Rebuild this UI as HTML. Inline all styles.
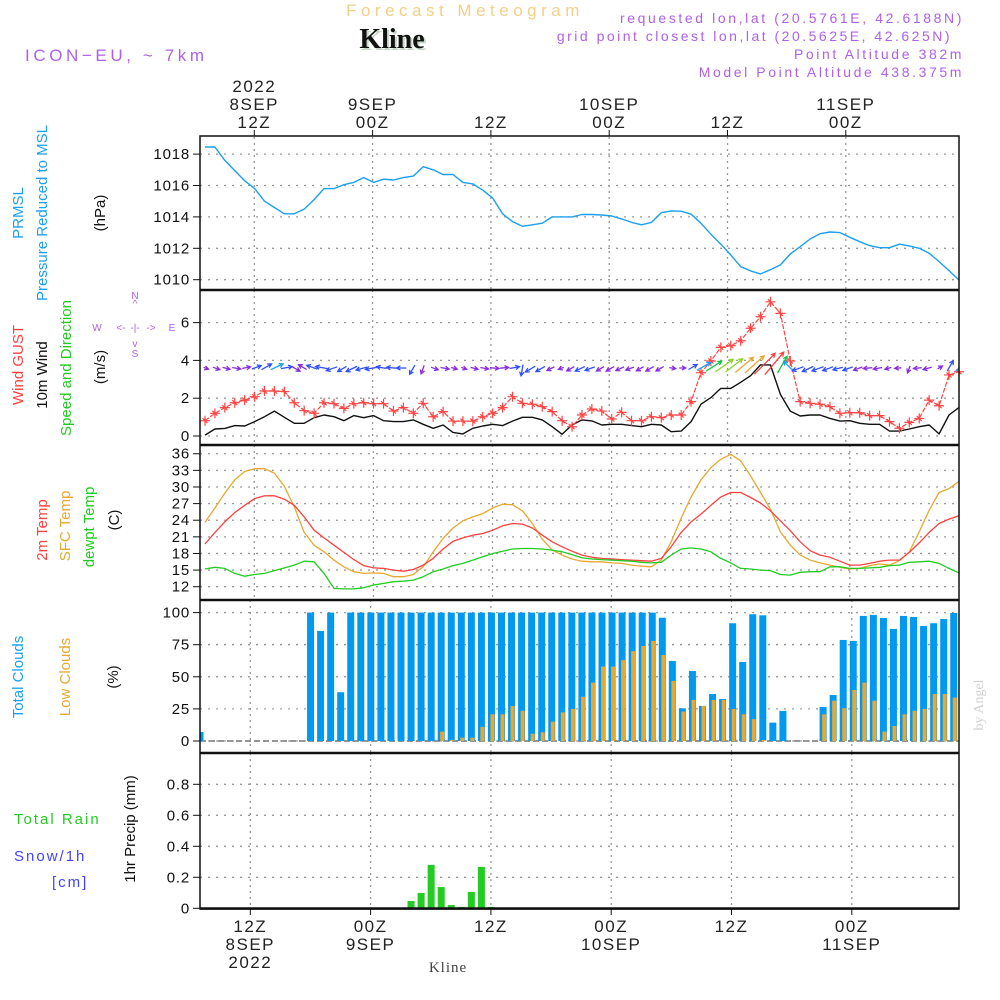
<!DOCTYPE html>
<html><head><meta charset="utf-8"><title>Forecast Meteogram Kline</title>
<style>
html,body{margin:0;padding:0;background:#fff;}
svg{display:block;font-family:"Liberation Sans",sans-serif;}
</style></head>
<body>
<svg id="chart" width="1000" height="1000" viewBox="0 0 1000 1000" xmlns="http://www.w3.org/2000/svg">
<g>
<text x="465" y="16" text-anchor="middle" font-size="17" fill="#f3cf8a" letter-spacing="4.5">Forecast Meteogram</text>
<text x="394" y="50" text-anchor="middle" font-family="Liberation Serif, serif" font-weight="bold" font-size="28" fill="#c8d8c8">Kline</text>
<text x="392" y="48" text-anchor="middle" font-family="Liberation Serif, serif" font-weight="bold" font-size="28" fill="#111">Kline</text>
<text x="25" y="61" font-size="17" fill="#b060e8" letter-spacing="3.6">ICON−EU, ~ 7km</text>
<text x="964" y="23" text-anchor="end" font-size="14" fill="#b060e8" letter-spacing="2.6">requested lon,lat (20.5761E, 42.6188N)</text>
<text x="952" y="41" text-anchor="end" font-size="14" fill="#b060e8" letter-spacing="2.5">grid point closest lon,lat (20.5625E, 42.625N)</text>
<text x="964" y="59" text-anchor="end" font-size="14" fill="#b060e8" letter-spacing="2.6">Point Altitude 382m</text>
<text x="964" y="77" text-anchor="end" font-size="14" fill="#b060e8" letter-spacing="2.6">Model Point Altitude 438.375m</text>
</g>
<g font-size="15">
<text transform="translate(23,213) rotate(-90)" text-anchor="middle" fill="#1aa0f0">PRMSL</text>
<text transform="translate(47,213) rotate(-90)" text-anchor="middle" fill="#1aa0f0">Pressure  Reduced to MSL</text>
<text transform="translate(105,213) rotate(-90)" text-anchor="middle" fill="#111">(hPa)</text>
<text transform="translate(23,365) rotate(-90)" text-anchor="middle" fill="#ff4040">Wind GUST</text>
<text transform="translate(47,375) rotate(-90)" text-anchor="middle" fill="#111">10m Wind</text>
<text transform="translate(71,368) rotate(-90)" text-anchor="middle" fill="#22cc22">Speed and Direction</text>
<text transform="translate(105,367) rotate(-90)" text-anchor="middle" fill="#111">(m/s)</text>
<g fill="#b060e8" font-size="10" text-anchor="middle">
<text x="135" y="299">N</text><text x="135" y="307">^</text>
<text x="97" y="331">W</text><text x="121" y="331">&lt;-</text><text x="135" y="331">-|-</text><text x="151" y="331">-&gt;</text><text x="172" y="331">E</text>
<text x="135" y="347">v</text><text x="135" y="357">S</text>
</g>
<text transform="translate(47,530) rotate(-90)" text-anchor="middle" fill="#ff4040">2m Temp</text>
<text transform="translate(70,526) rotate(-90)" text-anchor="middle" fill="#e8a830">SFC Temp</text>
<text transform="translate(94,527) rotate(-90)" text-anchor="middle" fill="#22cc22">dewpt Temp</text>
<text transform="translate(119,520) rotate(-90)" text-anchor="middle" fill="#111">(C)</text>
<text transform="translate(23,677) rotate(-90)" text-anchor="middle" fill="#1aa0f0">Total Clouds</text>
<text transform="translate(70,677) rotate(-90)" text-anchor="middle" fill="#e8a830">Low Clouds</text>
<text transform="translate(118,677) rotate(-90)" text-anchor="middle" fill="#111">(%)</text>
<text x="14" y="824" fill="#22cc22" font-size="15" letter-spacing="2">Total  Rain</text>
<text x="14" y="861" fill="#4444ff" font-size="15" letter-spacing="2">Snow/1h</text>
<text x="52" y="887" fill="#4444ff" font-size="15" letter-spacing="2">[cm]</text>
<text transform="translate(135,829) rotate(-90)" text-anchor="middle" fill="#111">1hr Precip (mm)</text>
</g>
<text transform="translate(983,705) rotate(-90)" text-anchor="middle" font-family="Liberation Serif, serif" font-size="14" fill="#d0d0d0">by Angel</text>
<text x="448" y="972" text-anchor="middle" font-family="Liberation Serif, serif" font-size="15" fill="#444" letter-spacing="1">Kline</text>
<g id="plot"></g>
</svg>
<script>
// ---- data (hourly, starting ~07Z 8 SEP 2022) ----
const pressure = [1018.45,1018.45,1017.6,1016.95,1016.3,1015.8,1015.0,1014.6,1014.2,1014.2,1014.5,1015.1,1015.8,1015.8,1016.05,1016.2,1016.5,1016.2,1016.4,1016.35,1016.5,1016.6,1017.2,1017.0,1016.7,1016.7,1016.2,1016.1,1015.7,1015.2,1014.2,1013.7,1013.4,1013.5,1013.6,1014.0,1014.0,1014.0,1014.15,1014.15,1014.12,1014.06,1013.87,1013.65,1013.5,1013.65,1014.27,1014.38,1014.36,1014.17,1013.59,1012.9,1012.26,1011.58,1010.83,1010.56,1010.37,1010.64,1010.94,1011.64,1012.1,1012.59,1012.93,1013.04,1013.0,1012.7,1012.42,1012.17,1012.04,1012.04,1012.26,1012.15,1012.0,1011.68,1011.15,1010.58,1009.98];
const windGust = [0.81,1.2,1.5,1.76,1.9,2.08,2.38,2.38,2.35,1.76,1.34,1.2,1.76,1.71,1.46,1.71,1.76,1.71,1.71,1.32,1.5,1.2,1.73,1.02,1.29,0.79,0.79,0.79,1.02,1.2,1.5,2.08,1.73,1.68,1.55,1.29,0.81,0.49,1.11,1.43,1.32,0.9,1.25,0.81,0.81,1.02,0.97,1.11,1.11,1.82,3.35,3.97,4.69,4.78,5.04,5.7,6.31,7.1,6.49,3.97,1.82,1.73,1.68,1.55,1.2,1.23,1.23,1.08,1.08,0.76,0.41,0.72,0.93,1.9,1.6,3.23,3.4];
const windSpeed = [0.05,0.37,0.4,0.55,0.53,0.76,1.02,1.32,0.99,0.67,0.67,0.97,1.11,1.02,0.81,1.08,0.97,1.08,0.81,0.76,0.76,0.85,0.62,0.41,0.58,0.19,0.11,0.41,0.53,0.62,0.55,0.79,0.99,0.99,0.85,0.49,0.09,0.58,0.85,0.8,0.58,0.62,0.62,0.55,0.49,0.62,0.58,0.23,0.26,0.76,1.68,2.03,2.52,2.52,2.84,3.19,3.76,3.76,2.2,1.32,1.06,1.11,1.11,0.93,0.79,0.81,0.67,0.62,0.62,0.26,0.26,0.37,0.49,0.58,0.11,1.11,1.5];
const windDir = [-20,-20,-15,-10,10,20,30,25,10,-30,150,160,170,-160,-150,-155,-165,-170,170,175,180,-120,-110,-20,-10,-15,-20,-15,-10,-5,5,10,-100,-150,-150,-155,-160,-150,-155,-160,-150,-150,-155,-160,-150,-150,-150,-10,0,30,30,32,35,38,40,42,45,50,60,135,-160,-155,-160,-160,-165,-160,-160,-175,-170,-165,-175,-110,-175,-165,30,60,45];
const temp2m = [19.7,21.8,23.7,25.4,26.7,27.9,28.4,28.4,27.8,26.7,24.6,22.2,20.8,19.5,18.2,16.9,15.8,15.4,15.3,15.0,14.8,15.1,15.9,17.1,18.8,20.2,20.8,21.3,21.6,22.2,23.0,23.4,23.3,22.6,21.3,20.1,19.2,18.4,17.7,17.3,17.1,17.0,16.9,16.8,16.7,16.6,17.1,19.2,21.8,23.7,25.1,26.7,28.2,29.0,29.0,28.1,27.1,25.7,23.9,22.1,20.1,18.5,17.7,17.3,16.6,15.9,15.9,16.2,16.6,16.8,16.8,18.2,19.9,21.8,23.4,24.2,24.8];
const tempSfc = [23.6,26.2,28.9,31.3,32.8,33.3,33.3,32.5,30.1,26.4,21.8,19.5,18.3,16.8,15.6,14.7,14.4,14.5,14.4,13.8,13.8,14.2,15.6,18.3,20.7,22.6,23.9,24.6,25.2,26.2,26.9,26.8,25.7,23.4,20.6,18.6,17.7,17.0,16.6,16.5,16.5,16.3,16.2,15.9,15.7,15.6,16.8,20.1,24.4,28.2,31.3,33.5,35.0,35.9,34.7,32.0,29.0,26.0,21.9,19.5,17.7,16.8,16.3,15.9,15.5,15.2,15.3,15.8,16.1,15.9,16.7,18.3,21.9,25.8,29.0,29.7,31.0];
const dewpt = [15.2,15.5,15.3,14.4,13.9,14.2,14.4,14.9,15.4,15.9,16.6,16.5,14.4,11.7,11.6,11.6,11.8,12.3,12.6,12.9,13.0,13.2,13.8,14.7,15.2,15.8,16.2,16.8,17.4,18.0,18.4,18.8,18.9,18.9,18.8,18.6,18.3,17.8,17.2,17.0,16.9,16.8,16.7,16.6,16.4,16.3,16.4,17.7,18.8,19.0,18.8,18.3,17.1,16.3,15.3,15.2,15.0,14.9,14.2,14.1,14.6,14.7,14.7,15.6,15.6,15.3,15.3,15.4,15.5,15.8,15.9,16.4,16.5,16.6,16.2,15.3,14.5];
const totalClouds = [7,0,0,0,0,0,0,0,0,0,0,100,85.7,100,38,100,100,100,100,100,100,100,100,100,100,100,100,100,100,100,100,100,100,100,100,100,100,100,100,100,100,100,100,100,100,100,96,62.3,25.5,54.5,27.3,36.6,32.7,91.7,61.6,98.7,97.9,14.3,23.4,0,0,0,26.5,35.8,78.7,77.9,97.4,98.2,95.8,87.3,97.4,96.6,89.6,91.7,95,99.7,89.6];
const lowClouds = [0,0,0,0,0,0,0,0,0,0,0,0,0,0,0,0,0,0,0,0,0,0,0,0,7.3,0.8,2.6,2.6,11,20.8,20.8,27.3,23.6,5.7,6.8,15,22.3,25,34.5,45.5,58,58,63,70,74,78,67,46.8,22.9,32,27.3,32,32,25,20.8,17,0.8,0,0,0,0,0,20.8,31.4,25.5,39.7,45.5,31.4,7.3,11.7,20.8,23.6,25,36.6,36.6,33.8,25];
const precip = [0,0,0,0,0,0,0,0,0,0,0,0,0,0,0,0,0,0,0,0,0,0.047,0.099,0.28,0.137,0.021,0.009,0.105,0.267,0.009,0,0,0,0,0,0,0,0,0,0,0,0,0,0,0,0,0,0,0,0,0,0,0,0,0,0,0,0,0,0,0,0,0,0,0,0,0,0,0,0,0,0,0,0,0,0,0];
const pressureTicks = [1010,1012,1014,1016,1018];
const windTicks = [0,2,4,6];
const tempTicks = [12,15,18,21,24,27,30,33,36];
const cloudTicks = [0,25,50,75,100];
const precipTicks = [0,0.2,0.4,0.6,0.8];
const topTimeLabels = [["2022","8SEP","12Z"],["","9SEP","00Z"],["","","12Z"],["","10SEP","00Z"],["","","12Z"],["","11SEP","00Z"]];
const bottomTimeLabels = [["12Z","8SEP","2022"],["00Z","9SEP",""],["12Z","",""],["00Z","10SEP",""],["12Z","",""],["00Z","11SEP",""]];

// ---- geometry ----
const L = 200, R = 959;
const xLine = i => 205 + i * 9.92;
const xBar = k => 200 + k * 10.05;
const yP = p => 279.7 - (p - 1010) * 15.7;
const yW = w => 436 - w * 18.9;
const yT = t => 586.7 - (t - 12) * 5.54;
const yC = c => 741 - c * 1.284;
const yR = r => 908.3 - r * 155;
const panels = [
  {name:'pressure', top:137, bot:290, gx0:254.3, gs:118.3},
  {name:'wind', top:290, bot:445, gx0:254.3, gs:118.3},
  {name:'temperature', top:445, bot:600, gx0:254.3, gs:119.1},
  {name:'clouds', top:600, bot:753, gx0:250.3, gs:120.3},
  {name:'precip', top:753, bot:909, gx0:250.3, gs:120.3}
];
const NS = 'http://www.w3.org/2000/svg';
const plot = document.getElementById('plot');
function mk(tag, attrs, parent) {
  const e = document.createElementNS(NS, tag);
  for (const k in attrs) e.setAttribute(k, attrs[k]);
  (parent || plot).appendChild(e);
  return e;
}
const clip = mk('clipPath', {id:'clipPlot'});
mk('rect', {x:L, y:136, width:R-L, height:774}, clip);

panels.forEach(p => {
  const g = mk('g', {});
  
  
  for (let k = 0; k < 6; k++) {
    const x = p.gx0 + k * p.gs;
    const ln = mk('line', {x1:x, x2:x, y1:p.top, y2:p.bot, stroke:'#999', 'stroke-width':1.3, 'stroke-dasharray':'2,4'}, g);
    
    
  }
});
function yAxis(name, ticks, yf, fmt) {
  const g = mk('g', {});
  
  
  ticks.forEach(t => {
    const y = yf(t);
    const gl = mk('line', {x1:L, x2:R, y1:y, y2:y, stroke:'#999', 'stroke-width':1.3, 'stroke-dasharray': '2,6'}, g);
    
    
    const tk = mk('line', {x1:L-7, x2:L, y1:y, y2:y, stroke:'#111', 'stroke-width':1}, g);
    
    
    const tx = mk('text', {x:L-10, y:y+5, 'text-anchor':'end', 'font-size':15, fill:'#111', 'letter-spacing':0.8}, g);
    
    
    tx.textContent = fmt(t);
  });
}
yAxis('pressure', pressureTicks, yP, t => String(t));
yAxis('wind', windTicks, yW, t => String(t));
yAxis('temperature', tempTicks, yT, t => String(t));
yAxis('clouds', cloudTicks, yC, t => String(t));
yAxis('precip', precipTicks, yR, t => t === 0 ? '0' : t.toFixed(1));

function polyline(name, vals, yf, color, width, dash) {
  const pts = vals.map((v, i) => xLine(i).toFixed(1) + ',' + yf(v).toFixed(1)).join(' ');
  const pl = mk('polyline', {points:pts, fill:'none', stroke:color, 'stroke-width':width || 1.3, 'stroke-linejoin':'round', 'clip-path':'url(#clipPlot)'});
  if (dash) pl.setAttribute('stroke-dasharray', dash);
  
  
  return pl;
}
polyline('pressure-line', pressure, yP, '#1aa0f0', 1.4);
polyline('wind-speed-line', windSpeed, yW, '#111', 1.4);
polyline('wind-gust-line', windGust, yW, '#ff4444', 1.2, '5,1.5');
const gm = mk('g', {stroke:'#ff4444', 'stroke-width':1.2});


windGust.forEach((v, i) => {
  const x = xLine(i), y = yW(v);
  const m = mk('path', {d:`M${x-5},${y}H${x+5}M${x},${y-5}V${y+5}M${x-2.5},${y-2.5}L${x+2.5},${y+2.5}`}, gm);
  
  
});
function windColor(s) {
  if (s < 0.7) return '#8a2be2';
  if (s < 1.2) return '#3050ff';
  if (s < 1.9) return '#1aa0f0';
  if (s < 2.3) return '#10c840';
  if (s < 2.7) return '#88d820';
  if (s < 3.3) return '#e8a830';
  return '#ff4040';
}
const ga = mk('g', {fill:'none', 'stroke-width':1.3});


windDir.forEach((d, i) => {
  const s = windSpeed[i];
  const len = 5 + s * 6.5;
  const a = d * Math.PI / 180;
  const x0 = xLine(i) - Math.cos(a) * len * 0.3, y0 = yW(3.6) + Math.sin(a) * len * 0.3;
  const x1 = x0 + Math.cos(a) * len, y1 = y0 - Math.sin(a) * len;
  const h = 4.5, b1 = a + Math.PI - 0.5, b2 = a + Math.PI + 0.5;
  const path = `M${x0.toFixed(1)},${y0.toFixed(1)}L${x1.toFixed(1)},${y1.toFixed(1)}M${(x1+Math.cos(b1)*h).toFixed(1)},${(y1-Math.sin(b1)*h).toFixed(1)}L${x1.toFixed(1)},${y1.toFixed(1)}L${(x1+Math.cos(b2)*h).toFixed(1)},${(y1-Math.sin(b2)*h).toFixed(1)}`;
  const ar = mk('path', {d:path, stroke:windColor(s), 'clip-path':'url(#clipPlot)'}, ga);
  
  
});
polyline('sfc-temp-line', tempSfc, yT, '#e8a830', 1.3);
polyline('2m-temp-line', temp2m, yT, '#ff4040', 1.3);
polyline('dewpoint-line', dewpt, yT, '#22cc22', 1.3);
const zl = mk('line', {x1:L, x2:R, y1:yC(0), y2:yC(0), stroke:'#777', 'stroke-width':1.5, 'stroke-dasharray':'6,3'});


const gc = mk('g', {'clip-path':'url(#clipPlot)'});


totalClouds.forEach((v, k) => {
  if (v <= 0) return;
  const b = mk('rect', {x:xBar(k)-3.5, y:yC(v), width:7, height:yC(0)-yC(v), fill:'#0099f0'}, gc);
  
  
});
lowClouds.forEach((v, k) => {
  if (v <= 0) return;
  const b = mk('rect', {x:xBar(k)-1, y:yC(v), width:4, height:yC(0)-yC(v), fill:'#e8a830'}, gc);
  
  
});
const gr = mk('g', {});


precip.forEach((v, k) => {
  if (v <= 0) return;
  const b = mk('rect', {x:xBar(k)-3.5, y:yR(v), width:7, height:yR(0)-yR(v), fill:'#22cc22'}, gr);
  
  
});
const fr = mk('rect', {x:L, y:136, width:R-L, height:773, fill:'none', stroke:'#111', 'stroke-width':1.5});


[290, 445, 600, 753].forEach(y => {
  const s = mk('line', {x1:L, x2:R, y1:y, y2:y, stroke:'#111', 'stroke-width':2.5});
  
  
});
const pb = mk('line', {x1:L, x2:R, y1:908.5, y2:908.5, stroke:'#111', 'stroke-width':2.5});


const gt = mk('g', {'font-size':17, fill:'#222', 'text-anchor':'middle', 'letter-spacing':1.5});


topTimeLabels.forEach((lab, k) => {
  const x = 254.3 + k * 118.3;
  const tk = mk('line', {x1:x, x2:x, y1:130, y2:136, stroke:'#111'}, gt);
  
  
  lab.forEach((s, j) => {
    if (!s) return;
    const t = mk('text', {x:x, y:92 + j * 18}, gt);
    
    
    t.textContent = s;
  });
});
const gb = mk('g', {'font-size':17, fill:'#222', 'text-anchor':'middle', 'letter-spacing':1.5});


bottomTimeLabels.forEach((lab, k) => {
  const x = 250.3 + k * 120.3;
  const tk = mk('line', {x1:x, x2:x, y1:909, y2:915, stroke:'#111'}, gb);
  
  
  lab.forEach((s, j) => {
    if (!s) return;
    const t = mk('text', {x:x, y:932 + j * 18}, gb);
    
    
    t.textContent = s;
  });
});
</script>
</body></html>
